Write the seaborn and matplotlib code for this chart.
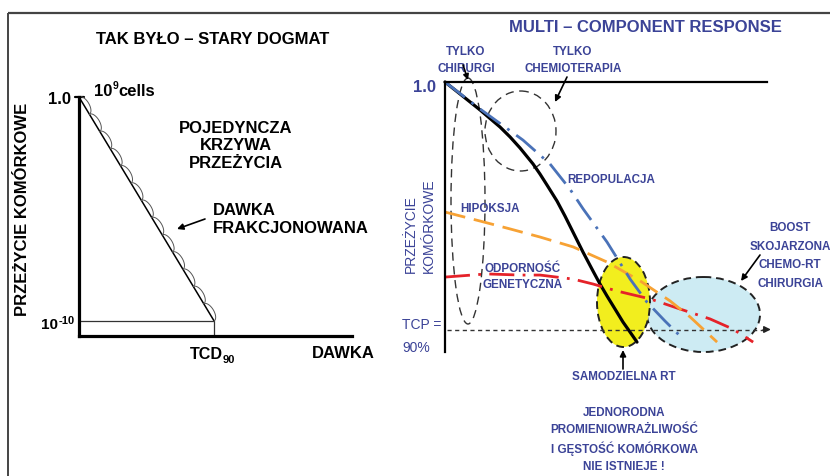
import numpy as np
import matplotlib
matplotlib.use("Agg")
import matplotlib.pyplot as plt
import seaborn as sns
from matplotlib.patches import Ellipse

# ---------------- data ----------------
# left panel: single survival curve (dose units 0-100, log10 survival)
left_dose = [0.0, 49.5]
left_logS = [0.0, -10.0]
n_fractions = 13
tcd90_dose = 49.5

# right panel (dose units 0-100, log10 survival)
black_dose = [0, 4.66, 10.87, 17.08, 20.19, 23.29, 27.33, 29.50, 31.68, 34.78, 37.27,
              39.75, 42.86, 45.96, 48.14, 50.31, 52.80, 55.28, 57.45, 59.63]
black_logS = [0, -0.53, -1.24, -2.0, -2.44, -2.93, -3.64, -4.09, -4.58, -5.29, -5.96,
              -6.67, -7.56, -8.4, -8.98, -9.51, -10.09, -10.67, -11.11, -11.56]

repop_dose = [0, 10.9, 24.2, 32.6, 38.8, 42.9, 50.3, 57.5, 62.7, 68.3, 73.3]
repop_logS = [0, -1.2, -2.58, -3.64, -4.76, -5.64, -7.11, -8.76, -9.78, -10.62, -11.33]

hypox_dose = [0, 10.9, 20.2, 29.5, 39.8, 50.3, 60.6, 69.9, 76.1, 84.5]
hypox_logS = [-5.78, -6.18, -6.53, -6.89, -7.33, -8.0, -8.84, -9.73, -10.44, -11.56]

genet_dose = [0, 13.0, 23.3, 29.5, 39.8, 46.0, 53.4, 63.7, 73.0, 82.3, 89.4, 95.7]
genet_logS = [-8.67, -8.53, -8.58, -8.58, -8.76, -8.98, -9.29, -9.64, -10.09, -10.53, -10.98, -11.56]

tcp_logS = -11.0

BLUE_TXT = "#3b4397"
C_BLUE = "#4a72b8"
C_ORANGE = "#f7a234"
C_RED = "#e52229"
C_YELLOW = "#f2ee1e"
C_LBLUE = "#cdebf3"

sns.set_style("white")
plt.rcParams["font.family"] = ["Liberation Sans", "DejaVu Sans"]

W, H = 830, 477
fig = plt.figure(figsize=(W / 100, H / 100), dpi=100)
fig.patch.set_facecolor("white")

ov = fig.add_axes([0, 0, 1, 1])
ov.set_xlim(0, W)
ov.set_ylim(H, 0)
ov.axis("off")
ov.set_zorder(1)


def panel(x0, y0, x1, y1):
    ax = fig.add_axes([x0 / W, 1 - y1 / H, (x1 - x0) / W, (y1 - y0) / H])
    ax.set_facecolor("none")
    ax.set_zorder(2)
    ax.set_xticks([])
    ax.set_yticks([])
    return ax


def T(x, y, s, size, color="black", weight="bold", ha="center", va="center", **kw):
    ov.text(x, y, s, fontsize=size, color=color, fontweight=weight, ha=ha, va=va, **kw)


def arrow(x0, y0, x1, y1, ms=9):
    ov.annotate("", xy=(x1, y1), xytext=(x0, y0),
                arrowprops=dict(arrowstyle="-|>", color="black", lw=1.2,
                                mutation_scale=ms, shrinkA=0, shrinkB=0))


# frame
ov.plot([8, W], [14, 14], color="#444444", lw=1.6, solid_capstyle="butt")
ov.plot([8, 8], [14, H], color="#444444", lw=1.4, solid_capstyle="butt")

# ---------------- left panel ----------------
axL = panel(79, 98, 352, 337)
axL.set_xlim(0, 100)
axL.set_ylim(-10.67, 0)
for s in ["top", "right"]:
    axL.spines[s].set_visible(False)
for s in ["left", "bottom"]:
    axL.spines[s].set_linewidth(2.3)
    axL.spines[s].set_color("black")

sns.lineplot(x=left_dose, y=left_logS, ax=axL, color="black", linewidth=1.1,
             sort=False, estimator=None, legend=False)
axL.plot([0, tcd90_dose], [left_logS[1], left_logS[1]], color="#333333", lw=0.9)
axL.plot([tcd90_dose, tcd90_dose], [left_logS[1], -10.67], color="#333333", lw=0.9)
axL.plot([-1.5, 1.8], [0, 0], color="black", lw=1.6, clip_on=False)

# fraction scallops (pixel-space geometry converted back to data units)
sx, sy = 273 / 100, 239 / 10.67
p0 = np.array([left_dose[0] * sx, left_logS[0] * sy])
p1 = np.array([left_dose[1] * sx, left_logS[1] * sy])
d = (p1 - p0) / n_fractions
L = np.hypot(*d)
u = d / L
nrm = np.array([-u[1], u[0]])
t = np.linspace(0, np.pi, 25)
for k in range(n_fractions):
    m = p0 + d * (k + 0.5)
    pts = m[None, :] - np.outer(np.cos(t) * L / 2, u) + np.outer(np.sin(t) * L * 0.25, nrm)
    axL.plot(pts[:, 0] / sx, pts[:, 1] / sy, color="#555555", lw=0.7, clip_on=False)

T(213, 40, "TAK BYŁO – STARY DOGMAT", 12)
T(71, 99, "1.0", 12, ha="right")
T(94, 91, "10", 12, ha="left")
T(112.5, 86, "9", 7.5, ha="left")
T(118, 91, "cells", 12, ha="left")
T(236, 146, "POJEDYNCZA\nKRZYWA\nPRZEŻYCIA", 12, multialignment="center", linespacing=1.22)
T(213, 219.5, "DAWKA\nFRAKCJONOWANA", 12, ha="left", linespacing=1.27)
arrow(205, 220, 177, 230)
T(58, 325, "10", 11, ha="right")
T(59, 321, "-10", 8, ha="left")
T(190, 355, "TCD", 11.6, ha="left")
T(223, 360, "90", 8, ha="left")
T(312, 354, "DAWKA", 12, ha="left")
T(22.5, 209, "PRZEŻYCIE KOMÓRKOWE", 12, rotation=90)

# ---------------- right panel ----------------
axR = panel(445, 83, 767, 353)
axR.set_xlim(0, 100)
axR.set_ylim(-12, 0)
for s in ["bottom", "right"]:
    axR.spines[s].set_visible(False)
for s in ["left", "top"]:
    axR.spines[s].set_linewidth(1.6)
    axR.spines[s].set_color("black")

# region ellipses (pixel space on overlay, below curves)
ov.add_patch(Ellipse((703.5, 315.5), 113, 75, facecolor=C_LBLUE, edgecolor="#222222",
                     lw=1.4, linestyle=(0, (4, 2.5))))
ov.add_patch(Ellipse((623.5, 303), 53, 90, facecolor=C_YELLOW, edgecolor="#222222",
                     lw=1.4, linestyle=(0, (4, 2.5))))
ov.add_patch(Ellipse((468, 202), 34, 246, facecolor="none", edgecolor="#333333",
                     lw=1.0, linestyle=(0, (6, 4))))
ov.add_patch(Ellipse((520.5, 132), 71, 80, facecolor="none", edgecolor="#333333",
                     lw=1.0, linestyle=(0, (6, 4))))

# TCP level (dotted with arrow)
axR.plot([0.6, 99.5], [tcp_logS, tcp_logS], color="#333333", lw=1.0,
         linestyle=(0, (3, 2.5)), clip_on=False)
axR.annotate("", xy=(101.2, tcp_logS), xytext=(98.8, tcp_logS),
             arrowprops=dict(arrowstyle="-|>", color="#222222", lw=1.0,
                             mutation_scale=10, shrinkA=0, shrinkB=0),
             annotation_clip=False)

sns.lineplot(x=black_dose, y=black_logS, ax=axR, color="black", linewidth=2.3,
             sort=False, estimator=None, legend=False)
axR.lines[-1].set_clip_on(False)
axR.lines[-1].set_solid_joinstyle("round")

curves = [
    (genet_dose, genet_logS, C_RED, 2.0, (9, 3, 1, 3)),
    (hypox_dose, hypox_logS, C_ORANGE, 2.0, (7.5, 3.2)),
    (repop_dose, repop_logS, C_BLUE, 2.0, (9, 3, 1, 3)),
]
for xs, ys, col, lw, dsh in curves:
    sns.lineplot(x=xs, y=ys, ax=axR, color=col, linewidth=lw, sort=False,
                 estimator=None, legend=False)
    ln = axR.lines[-1]
    ln.set_dashes(dsh)
    ln.set_clip_on(False)

T(645, 28, "MULTI – COMPONENT RESPONSE", 12, color=BLUE_TXT)
T(436, 87, "1.0", 12, color=BLUE_TXT, ha="right")
ov.text(411, 273, "PRZEŻYCIE", fontsize=10, color=BLUE_TXT, rotation=90,
        rotation_mode="anchor", ha="left", va="center")
ov.text(429, 273, "KOMÓRKOWE", fontsize=10, color=BLUE_TXT, rotation=90,
        rotation_mode="anchor", ha="left", va="center")
T(402, 325, "TCP =", 10, color=BLUE_TXT, weight="normal", ha="left")
T(402, 348, "90%", 10, color=BLUE_TXT, weight="normal", ha="left")

LS = 8.4
T(466, 60.5, "TYLKO\nCHIRURGI", LS, color=BLUE_TXT, linespacing=1.45)
T(573, 60.5, "TYLKO\nCHEMIOTERAPIA", LS, color=BLUE_TXT, linespacing=1.45)
T(567, 180, "REPOPULACJA", LS, color=BLUE_TXT, ha="left")
T(460, 209, "HIPOKSJA", LS, color=BLUE_TXT, ha="left")
T(523, 277, "ODPORNOŚĆ\nGENETYCZNA", LS, color=BLUE_TXT, linespacing=1.5)
T(790, 256, "BOOST\nSKOJARZONA\nCHEMO-RT\nCHIRURGIA", LS, color=BLUE_TXT, linespacing=1.75)
T(624, 377, "SAMODZIELNA RT", LS, color=BLUE_TXT)
T(624, 440, "JEDNORODNA\nPROMIENIOWRAŻLIWOŚĆ\nI GĘSTOŚĆ KOMÓRKOWA\nNIE ISTNIEJE !", LS,
  color=BLUE_TXT, linespacing=1.5)

arrow(463, 66, 468, 81, ms=8)
arrow(567, 78, 555, 103)
arrow(760, 256, 741, 282)
arrow(623, 370, 623, 351)

fig.savefig("out.png", dpi=100)
